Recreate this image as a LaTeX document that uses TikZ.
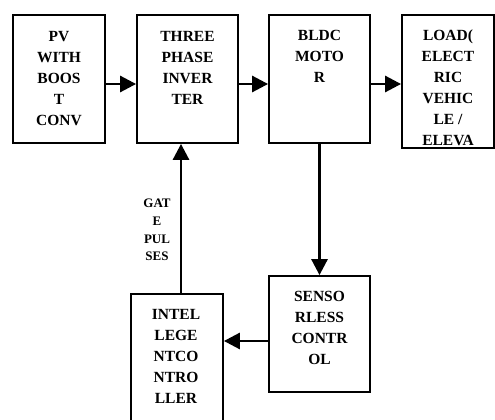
\documentclass[tikz,border=0pt]{standalone}
\usepackage{fontspec}
\setmainfont{Liberation Serif}
\usetikzlibrary{arrows.meta}
\tikzset{
  blk/.style={draw, line width=1.8pt, rectangle, inner sep=0pt},
  txt/.style={anchor=north, align=center, inner sep=0pt, font=\bfseries\fontsize{15.5}{21}\selectfont},
  small/.style={anchor=north, align=center, inner sep=0pt, font=\bfseries\fontsize{13}{17.6}\selectfont},
  arr/.style={line width=2.8pt, -{Triangle[length=16pt,width=16pt]}}
}
\begin{document}
\begin{tikzpicture}[x=1pt,y=-1pt]
\useasboundingbox (0,0) rectangle (495,420);
% boxes
\node[blk, minimum width=92pt, minimum height=128pt] (pv) at (59,79) {};
\node[blk, minimum width=101pt, minimum height=128pt] (inv) at (187.5,79) {};
\node[blk, minimum width=101pt, minimum height=128pt] (bldc) at (319.5,79) {};
\node[blk, minimum width=92pt, minimum height=133pt] (load) at (448,81.5) {};
\node[blk, minimum width=101pt, minimum height=116pt] (sens) at (319.5,334) {};
\node[blk, minimum width=92pt, minimum height=130pt] (ctrl) at (177,359) {};
% texts
\node[txt] (tpv) at (59,31.5) {PV\\WITH\\BOOS\\T\\CONV};
\node[txt] (tinv) at (187.5,31.5) {THREE\\PHASE\\INVER\\TER};
\node[txt] (tbldc) at (319.5,30) {BLDC\\MOTO\\R};
\node[txt] (tload) at (448,30) {LOAD(\\ELECT\\RIC\\VEHIC\\LE /\\ELEVA};
\node[txt] (tsens) at (319.5,291.5) {SENSO\\RLESS\\CONTR\\OL};
\node[txt] (tctrl) at (176,309.5) {INTEL\\LEGE\\NTCO\\NTRO\\LLER};
\node[small] (gate) at (157,199) {GAT\\E\\PUL\\SES};
% connectors
\draw[arr] ([yshift=-5pt]pv.east) -- ([yshift=-5pt]inv.west);
\draw[arr] ([yshift=-5pt]inv.east) -- ([yshift=-5pt]bldc.west);
\draw[arr] ([yshift=-5pt]bldc.east) -- ([yshift=-2.5pt]load.west);
\draw[arr] (bldc.south) -- (sens.north);
\draw[arr] ([yshift=-7pt]sens.west) -- ([yshift=-7pt]sens.west -| ctrl.east);
\draw[arr] ([xshift=4pt]ctrl.north) -- ([xshift=-6.5pt]inv.south);
\end{tikzpicture}
\end{document}
